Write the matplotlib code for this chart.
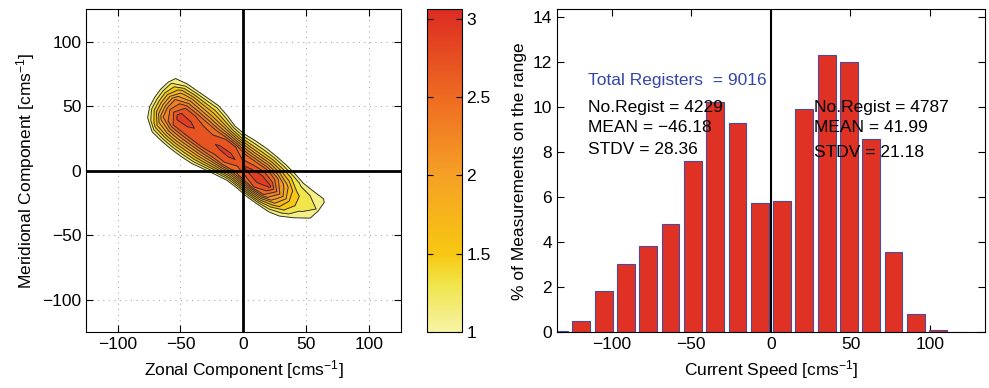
import numpy as np
import matplotlib
matplotlib.use("Agg")
import matplotlib.pyplot as plt
from matplotlib.colors import LinearSegmentedColormap, Normalize
import matplotlib.cm as cm

plt.rcParams.update({"font.family": ["Liberation Sans", "DejaVu Sans"],
                     "font.size": 12.5, "mathtext.default": "regular"})

# ---- left panel: log10 occurrence on a grid aligned with the main axis ----
# along-axis nodes (u) and across-axis nodes (p), cm/s
u_nodes = [-75, -65, -55, -45, -35, -25, -15, -5, 5, 15, 25, 35, 45, 55, 65, 75, 85, 95]
p_nodes = [-32, -24, -16, -8, 0, 8, 16, 24, 32]
z_rows = [
    [0, 0, 0.2, 0.4, 0.5, 0.5, 0.4, 0.1, 0],
    [0, 0.3, 0.95, 1.3, 1.4, 1.4, 1.25, 0.9, 0.2],
    [0, 0.85, 1.6, 2.2, 2.35, 2.25, 1.75, 1.0, 0.2],
    [0, 0.95, 1.8, 2.6, 2.92, 2.6, 1.9, 1.05, 0.2],
    [0, 1.0, 1.85, 2.62, 2.88, 2.6, 1.85, 1.1, 0.3],
    [0, 0.98, 1.8, 2.62, 2.72, 2.55, 1.8, 1.15, 0.3],
    [0, 0.9, 1.75, 2.6, 2.74, 2.5, 1.7, 0.95, 0.1],
    [0, 0.6, 1.6, 2.55, 2.84, 2.6, 1.55, 0.6, 0],
    [0, 0.3, 1.35, 2.55, 2.86, 2.6, 1.45, 0.6, 0],
    [0, 0, 1.1, 2.35, 2.75, 2.4, 1.5, 0.75, 0],
    [0, 0, 1.1, 2.45, 2.9, 2.45, 1.55, 0.8, 0],
    [0, 0, 1.2, 2.6, 2.98, 2.5, 1.6, 0.75, 0],
    [0, 0, 1.15, 2.4, 2.85, 2.3, 1.5, 0.7, 0],
    [0, 0, 1.05, 1.85, 2.2, 1.9, 1.35, 0.6, 0],
    [0, 0, 0.85, 1.4, 1.55, 1.45, 1.15, 0.5, 0],
    [0, 0, 0.4, 1.0, 1.25, 1.3, 1.15, 0.45, 0],
    [0, 0, 0, 0.55, 1.05, 1.2, 1.15, 0.5, 0],
    [0, 0, 0, 0, 0.2, 0.3, 0.4, 0, 0],
]
levels = [1.0, 1.2, 1.4, 1.6, 1.8, 2.0, 2.2, 2.4, 2.6, 2.8, 3.0]

# ---- right panel: histogram of current speed ----
bin_centers = [-133, -119, -105, -91, -77, -63, -49, -35, -21, -7,
               7, 21, 35, 49, 63, 77, 91, 105, 119, 133]
pct = [0.05, 0.5, 1.82, 3.04, 3.85, 4.81, 7.6, 10.24, 9.29, 5.75,
       5.85, 9.93, 12.33, 12.01, 8.58, 3.56, 0.81, 0.1, 0.02, 0.02]

cmap = LinearSegmentedColormap.from_list("ylrd", [
    (0.0, "#f7f4a6"), (0.15, "#f0e448"), (0.243, "#f8c712"),
    (0.485, "#f5a125"), (0.728, "#ee6b22"), (1.0, "#dc2c22")])
norm = Normalize(1.0, 3.06)

fig = plt.figure(figsize=(9.89, 3.88), dpi=100)
ax1 = fig.add_axes([0.0870, 0.1436, 0.3182, 0.8325])
cax = fig.add_axes([0.4314, 0.1436, 0.0354, 0.8325])
ax2 = fig.add_axes([0.5629, 0.1436, 0.4331, 0.8325])

U, P = np.meshgrid(np.array(u_nodes, float), np.array(p_nodes, float), indexing="ij")
Z = np.array(z_rows)
X = -15 + 0.8 * U + 0.6 * P
Y = 15 - 0.6 * U + 0.8 * P

ax1.contourf(X, Y, Z, levels=levels, cmap=cmap, norm=norm, zorder=1)
ax1.contour(X, Y, Z, levels=levels, colors="#2a2a2a", linewidths=0.65, zorder=2)
ax1.axhline(0, color="k", lw=2, zorder=3)
ax1.axvline(0, color="k", lw=2, zorder=3)
ax1.set_xlim(-125, 125)
ax1.set_ylim(-125, 125)
ax1.set_xticks([-100, -50, 0, 50, 100])
ax1.set_yticks([-100, -50, 0, 50, 100])
ax1.set_axisbelow(True)
ax1.grid(True, color="#aaaaaa", linestyle=(0, (1, 4)), lw=0.8)
ax1.set_xlabel("Zonal Component [cms$^{-1}$]")
ax1.set_ylabel("Meridional Component [cms$^{-1}$]")

cb = fig.colorbar(cm.ScalarMappable(norm=norm, cmap=cmap), cax=cax)
cb.set_ticks([1, 1.5, 2, 2.5, 3])
cb.set_ticklabels(["1", "1.5", "2", "2.5", "3"])
cb.outline.set_linewidth(0.8)
cax.tick_params(direction="in", left=True, right=True, length=4, width=0.8)

ax2.bar(bin_centers, pct, width=11.2, color="#df3224", edgecolor="#4a4aa0",
        linewidth=0.8, zorder=2)
ax2.axvline(0, color="k", lw=1.5, zorder=3)
ax2.set_xlim(-134.5, 134.5)
ax2.set_ylim(0, 14.35)
ax2.set_xticks([-100, -50, 0, 50, 100])
ax2.set_yticks(range(0, 15, 2))
ax2.set_xlabel("Current Speed [cms$^{-1}$]")
ax2.set_ylabel("% of Measurements on the range")

ax2.text(-115, 11.2, "Total Registers  = 9016", color="#3447a6", va="center", zorder=4)
ax2.text(-115, 10.0, "No.Regist = 4229", va="center", zorder=4)
ax2.text(-115, 9.1, "MEAN = \u221246.18", va="center", zorder=4)
ax2.text(-115, 8.1, "STDV = 28.36", va="center", zorder=4)
ax2.text(27, 10.0, "No.Regist = 4787", va="center", zorder=4)
ax2.text(27, 9.1, "MEAN = 41.99", va="center", zorder=4)
ax2.text(27, 8.0, "STDV = 21.18", va="center", zorder=4)

for ax in (ax1, ax2):
    ax.tick_params(direction="in", top=True, right=True, length=5, width=0.8)
    for s in ax.spines.values():
        s.set_linewidth(0.8)

fig.savefig("out.png", dpi=100)
